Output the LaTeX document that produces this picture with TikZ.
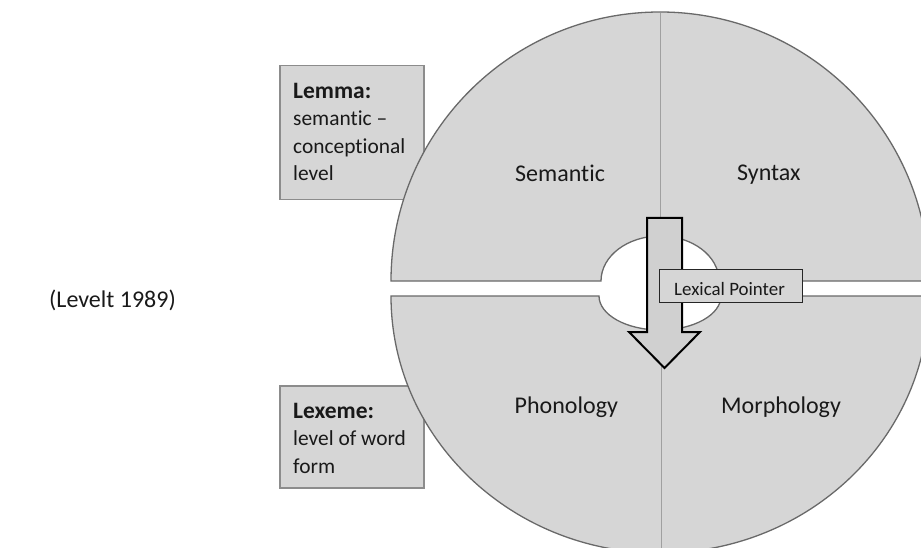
\documentclass[tikz,border=0pt]{standalone}
\usepackage{fontspec}
\setmainfont{Carlito}[Ligatures=NoCommon]
\definecolor{discgray}{RGB}{214,214,214}
\definecolor{edgegray}{RGB}{105,105,105}
\definecolor{boxedge}{RGB}{140,140,140}
\definecolor{divgray}{RGB}{160,160,160}
\definecolor{arrowgray}{RGB}{208,208,208}
\definecolor{txt}{RGB}{25,25,25}
\begin{document}
\begin{tikzpicture}[x=1pt,y=1pt,
  halfdisc/.style={fill=discgray, draw=edgegray, line width=1.3pt},
  labbox/.style={draw=boxedge, fill=discgray, line width=1.5pt, inner sep=0pt},
  divider/.style={draw=divgray, line width=1pt},
  bigarrow/.style={draw=black, fill=arrowgray, line width=2pt, line join=miter},
  ptrbox/.style={draw=black!85, fill=discgray, line width=1.3pt, inner sep=0pt},
  bigtxt/.style={font=\fontsize{24}{29}\selectfont, inner sep=0pt, text=txt},
  boxtxt/.style={font=\fontsize{21.4}{27.5}\selectfont, inner sep=0pt, align=left, text=txt},
  ptrtxt/.style={font=\fontsize{18.9}{22}\selectfont, inner sep=0pt, text=txt}]
\useasboundingbox (0,0) rectangle (921,-548);

% side label boxes (behind the disc)
\node[labbox, minimum width=144pt, minimum height=134pt, anchor=north west] (lemmabox) at (279,-65) {};
\node[labbox, minimum width=144pt, minimum height=102pt, anchor=north west] (lexemebox) at (279,-385) {};

% upper half of the disc
\path[halfdisc] (391,-281) arc[start angle=180, end angle=0, radius=269pt]
  -- (719,-281) arc[start angle=0, end angle=180, x radius=59pt, y radius=45pt] -- cycle;
% lower half of the disc
\path[halfdisc] (391,-296) arc[start angle=180, end angle=360, x radius=269pt, y radius=257pt]
  -- (721,-296) arc[start angle=0, end angle=-180, x radius=61pt, y radius=34pt] -- cycle;

% dividing lines
\draw[divider] (660,-13) -- (660,-236);
\draw[divider] (661,-330) -- (661,-552);

% block arrow
\draw[bigarrow] (647,-218) -- (682,-218) -- (682,-332) -- (700,-332) -- (664.5,-368)
  -- (629,-332) -- (647,-332) -- cycle;

% lexical pointer box
\node[ptrbox, minimum width=143pt, minimum height=33pt, anchor=north west] (ptrbox) at (659,-269) {};
\node[ptrtxt, anchor=base west] (ptrtext) at (674,-295) {Lexical Pointer};

% quadrant labels
\node[bigtxt, anchor=base west] (semantic) at (515,-182) {Semantic};
\node[bigtxt, anchor=base west] (syntax) at (737,-181) {Syntax};
\node[bigtxt, anchor=base west] (phonology) at (514.5,-413) {Phonology};
\node[bigtxt, anchor=base west] (morphology) at (721,-413) {Morphology};

% box texts
\node[boxtxt, anchor=north west] (lemmatext) at (293,-78.75) {\strut{\fontsize{23.5}{27.5}\selectfont\bfseries Lemma:}\\semantic –\\conceptional\\level};
\node[boxtxt, anchor=north west] (lexemetext) at (293,-398.75) {\strut{\fontsize{23.5}{27.5}\selectfont\bfseries Lexeme:}\\level of word\\form};

% citation
\node[bigtxt, anchor=base east] (levelt) at (176,-307) {(Levelt 1989)};
\end{tikzpicture}
\end{document}
